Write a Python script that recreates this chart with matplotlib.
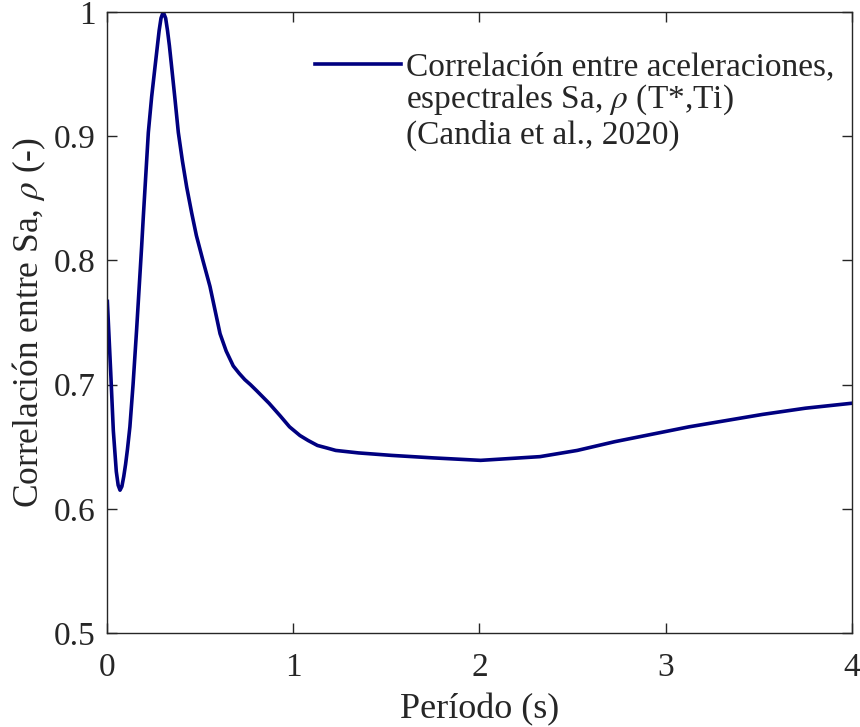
import numpy as np
import matplotlib
matplotlib.use("Agg")
import matplotlib.pyplot as plt

plt.rcParams['font.family'] = ['Liberation Serif', 'DejaVu Serif']
plt.rcParams['mathtext.fontset'] = 'stix'

# Correlación Sa vs período (lectura de la curva)
periodo = [0.002, 0.02, 0.034, 0.05, 0.06, 0.07, 0.08, 0.09, 0.10, 0.11, 0.123, 0.14, 0.159,
           0.186, 0.195, 0.222, 0.24, 0.258, 0.28, 0.29, 0.302, 0.315, 0.325, 0.335,
           0.347, 0.365, 0.383, 0.405, 0.428, 0.455, 0.48, 0.515, 0.553, 0.607, 0.64,
           0.678, 0.71, 0.74, 0.77, 0.804, 0.87, 0.929, 0.98, 1.036, 1.08, 1.13, 1.18,
           1.228, 1.35, 1.528, 1.75, 2.006, 2.325, 2.525, 2.725, 3.125, 3.52, 3.75, 4.0]
rho = [0.767, 0.710, 0.663, 0.630, 0.619, 0.615, 0.618, 0.626, 0.636, 0.648, 0.666, 0.700, 0.744,
       0.811, 0.835, 0.903, 0.932, 0.956, 0.985, 0.995, 1.000, 0.995, 0.985, 0.973,
       0.956, 0.930, 0.903, 0.880, 0.859, 0.838, 0.820, 0.800, 0.779, 0.741, 0.727,
       0.715, 0.709, 0.704, 0.700, 0.695, 0.685, 0.675, 0.666, 0.659, 0.655, 0.651, 0.649,
       0.647, 0.645, 0.643, 0.641, 0.639, 0.642, 0.647, 0.654, 0.666, 0.676, 0.681, 0.685]

xticks = [0, 1, 2, 3, 4]
yticks = [0.5, 0.6, 0.7, 0.8, 0.9, 1.0]
yticklabels = ['0.5', '0.6', '0.7', '0.8', '0.9', '1']

leyenda = ['Correlación entre aceleraciones,',
           'espectrales Sa, $\\rho$ (T*,Ti)',
           '(Candia et al., 2020)']

gris = '#262626'

fig = plt.figure(figsize=(8.6, 7.27), dpi=100)
ax = fig.add_axes([0.1244, 0.1293, 0.8663, 0.8542])

ax.plot(periodo, rho, color='#000080', lw=2.6, label=leyenda[0])

ax.set_xlim(0, 4)
ax.set_ylim(0.5, 1.0)
ax.set_xticks(xticks)
ax.set_yticks(yticks)
ax.set_yticklabels(yticklabels)
ax.tick_params(direction='in', top=True, right=True, length=7, width=1.0,
               labelsize=24, colors=gris)
ax.tick_params(axis='x', pad=14)
ax.tick_params(axis='y', pad=8)
for s in ax.spines.values():
    s.set_color(gris)
    s.set_linewidth(1.0)

ax.set_xlabel('Período (s)', fontsize=26, color=gris, labelpad=7)
ax.set_ylabel('Correlación entre Sa, $\\rho$ (-)', fontsize=25.5, color=gris, labelpad=4)

# leyenda: la línea va junto a la primera fila, el resto del texto debajo
leg = ax.legend(loc='upper right', bbox_to_anchor=(0.977, 0.936), frameon=False,
                fontsize=24, handlelength=2.6, handletextpad=0.15,
                borderaxespad=0, borderpad=0)
for t in leg.get_texts():
    t.set_color(gris)

fig.canvas.draw()
bb = leg.get_texts()[0].get_window_extent()
x0, y0 = ax.transAxes.inverted().transform((bb.x0, bb.y0))
ax.text(x0, y0, '\n'.join(leyenda[1:]), transform=ax.transAxes,
        ha='left', va='top', fontsize=24, color=gris, linespacing=1.13)

fig.savefig('out.png', dpi=100)
